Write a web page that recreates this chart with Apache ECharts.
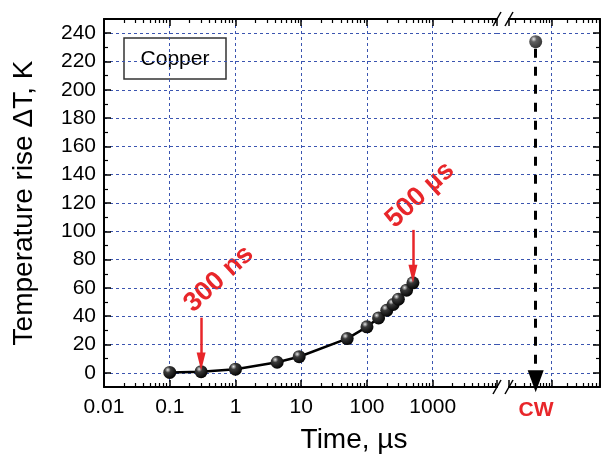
<!DOCTYPE html>
<html>
<head>
<meta charset="utf-8">
<script src="https://cdn.jsdelivr.net/npm/echarts@6/dist/echarts.min.js"></script>
<style>
  html, body { margin: 0; padding: 0; background: #fff; }
  #container { width: 602px; height: 459px; }
</style>
</head>
<body>
<div id="container"></div>
<script>
// pulse duration (µs) and temperature rise (K)
const times = [0.1, 0.3, 1, 4.3, 9.3, 50, 100, 150, 200, 250, 300, 400, 500]
const deltaT = [0.3, 0.8, 2.6, 7.5, 11.4, 24.2, 32.5, 38.8, 44.2, 48.3, 52, 58.4, 63.6]

// continuous wave point, shown past the axis break
const cwLabel = 'CW'
const cwValue = 234
const cwPos = 5 // where CW sits on the hidden right-hand axis

// red arrows pointing at 300 ns and 500 µs
const arrowNs = [[0.3, 39], [0.3, 8]]
const arrowUs = [[500, 101], [500, 70]]
const cwArrow = [[cwPos, 229], [cwPos, -6]]

const font = '"Liberation Sans", Arial, sans-serif'
const red = '#e8262a'
const black = '#000'
const head = 'path://M5,0 L10,20 L0,20 Z'

const ball = {
  type: 'radial', x: 0.35, y: 0.3, r: 0.75,
  colorStops: [
    { offset: 0, color: '#e6e6e6' },
    { offset: 0.3, color: '#3a3a3a' },
    { offset: 1, color: '#000' }
  ]
}

const gridLine = {
  show: true,
  showMinLine: false,
  showMaxLine: false,
  lineStyle: { color: '#3b55b0', type: [3, 3], width: 1 }
}

function xAxisDef(grid, pos, min, max, labels) {
  return {
    gridIndex: grid,
    type: 'log',
    position: pos,
    min: min,
    max: max,
    axisLine: { show: true, onZero: false, lineStyle: { color: black, width: 2 } },
    axisTick: { show: true, inside: true, length: 7, lineStyle: { color: black, width: 1.5 } },
    minorTick: { show: true, splitNumber: 9, length: 4, lineStyle: { color: black, width: 1.2 } },
    axisLabel: {
      show: labels,
      fontSize: 21,
      fontFamily: font,
      color: black,
      margin: 10,
      showMaxLabel: false,
      formatter: v => String(+(+v).toPrecision(6))
    },
    splitLine: pos === 'bottom' ? gridLine : { show: false }
  }
}

function yAxisDef(grid, pos, labels, bare) {
  return {
    gridIndex: grid,
    type: 'value',
    position: pos,
    min: -10,
    max: 250,
    splitNumber: 13,
    name: labels ? 'Temperature rise ΔT, K' : '',
    nameLocation: 'middle',
    nameGap: 66,
    nameTextStyle: { fontSize: 28, fontFamily: font, color: black },
    axisLine: { show: !bare, lineStyle: { color: black, width: 2 } },
    axisTick: { show: !bare, inside: true, length: 7, lineStyle: { color: black, width: 1.5 } },
    minorTick: { show: !bare, splitNumber: 2, length: 4, lineStyle: { color: black, width: 1.2 } },
    axisLabel: {
      show: labels,
      fontSize: 21,
      fontFamily: font,
      color: black,
      margin: 8,
      showMinLabel: false,
      showMaxLabel: false
    },
    splitLine: gridLine
  }
}

function breakMark(x, y) {
  return {
    type: 'line',
    z: 100,
    shape: { x1: x - 4, y1: y + 7, x2: x + 4, y2: y - 7 },
    style: { stroke: black, lineWidth: 1.5 }
  }
}

function arrow(pts, size) {
  return [
    { coord: pts[0], symbol: 'none' },
    { coord: pts[1], symbol: head, symbolSize: size }
  ]
}

const chart = echarts.init(document.getElementById('container'))

chart.setOption({
  animation: false,
  backgroundColor: '#fff',
  textStyle: { fontFamily: font },
  grid: [
    { left: 104, top: 19, width: 393, bottom: 72 },
    { left: 509, right: 2, top: 19, bottom: 72 },
    // narrow strip inside the axis break, only carries the horizontal grid lines
    { left: 497, width: 12, top: 19, bottom: 72 }
  ],
  xAxis: [
    xAxisDef(0, 'bottom', 0.01, 9500, true),
    xAxisDef(0, 'top', 0.01, 9500, false),
    xAxisDef(1, 'bottom', 1.55, 84, false),
    xAxisDef(1, 'top', 1.55, 84, false),
    { gridIndex: 2, type: 'value', show: false }
  ],
  yAxis: [
    yAxisDef(0, 'left', true, false),
    yAxisDef(1, 'right', false, false),
    yAxisDef(2, 'left', false, true)
  ],
  series: [
    {
      type: 'line',
      xAxisIndex: 0,
      yAxisIndex: 0,
      data: times.map((t, i) => [t, deltaT[i]]),
      symbol: 'circle',
      symbolSize: 13,
      lineStyle: { color: black, width: 2.5 },
      itemStyle: { color: ball },
      markLine: {
        silent: true,
        lineStyle: { color: red, width: 2.5, type: 'solid' },
        label: { show: false },
        data: [arrow(arrowNs, [9, 18]), arrow(arrowUs, [9, 18])]
      }
    },
    {
      type: 'scatter',
      name: cwLabel,
      xAxisIndex: 2,
      yAxisIndex: 1,
      data: [[cwPos, cwValue]],
      symbolSize: 13,
      itemStyle: { color: ball },
      markLine: {
        silent: true,
        lineStyle: { color: black, width: 3, type: [9, 9] },
        label: { show: false },
        data: [arrow(cwArrow, [16, 22])]
      }
    }
  ],
  graphic: [
    breakMark(497, 19),
    breakMark(509, 19),
    breakMark(497, 387),
    breakMark(509, 387),
    {
      type: 'rect',
      shape: { x: 124, y: 38, width: 102, height: 41 },
      style: { fill: '#fff', stroke: '#333', lineWidth: 1.5 }
    },
    {
      type: 'text', x: 175, y: 59,
      style: { text: 'Copper', font: '21px ' + font, fill: black, textAlign: 'center', textVerticalAlign: 'middle' }
    },
    {
      type: 'text', x: 219, y: 279, rotation: 43 * Math.PI / 180,
      style: { text: '300 ns', font: 'bold 27px ' + font, fill: red, textAlign: 'center', textVerticalAlign: 'middle' }
    },
    {
      type: 'text', x: 420, y: 195, rotation: 43 * Math.PI / 180,
      style: { text: '500 µs', font: 'bold 27px ' + font, fill: red, textAlign: 'center', textVerticalAlign: 'middle' }
    },
    {
      type: 'text', x: 536, y: 410,
      style: { text: cwLabel, font: 'bold 21px ' + font, fill: red, textAlign: 'center', textVerticalAlign: 'middle' }
    },
    {
      type: 'text', x: 354, y: 440,
      style: { text: 'Time, µs', font: '28px ' + font, fill: black, textAlign: 'center', textVerticalAlign: 'middle' }
    }
  ]
})
</script>
</body>
</html>
